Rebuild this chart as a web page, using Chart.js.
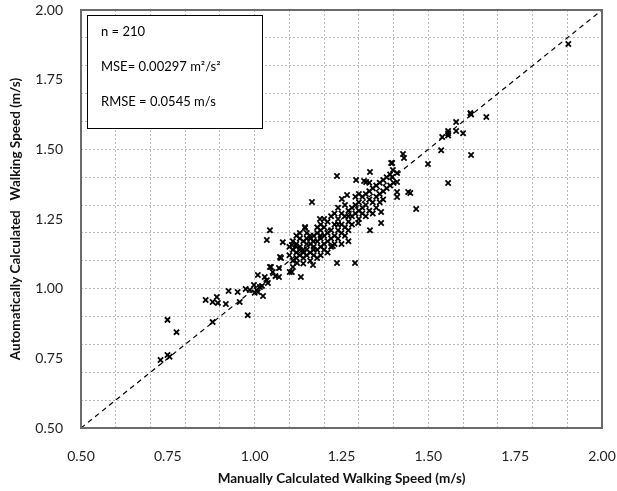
<!DOCTYPE html>
<html>
<head>
<meta charset="utf-8">
<script src="https://cdn.jsdelivr.net/npm/chart.js@4.4.1/dist/chart.umd.min.js"></script>
<style>
  html, body { margin: 0; padding: 0; background: #fff; }
</style>
</head>
<body>
<canvas id="speed-chart" width="617" height="491"></canvas>
<script>
// manually calculated walking speed (m/s), one per observation
const manualSpeed = [
  0.729, 0.749, 0.755, 0.749, 0.775, 0.879, 0.859, 0.891, 0.879, 0.894,
  0.917, 0.925, 0.951, 0.957, 0.980, 0.974, 0.998, 1.000, 1.009, 1.024,
  1.015, 1.009, 1.021, 0.986, 1.006, 1.044, 1.038, 1.070, 1.070, 1.073,
  1.101, 1.133, 1.110, 1.122, 1.044, 1.035, 1.081, 1.145, 1.107, 1.076,
  1.047, 1.029, 1.052, 1.107, 1.060, 1.035,
  1.903, 1.621, 1.623, 1.667, 1.580, 1.557, 1.557, 1.557, 1.540, 1.580,
  1.600, 1.537, 1.623, 1.499, 1.557, 1.427, 1.430, 1.396, 1.398, 1.410,
  1.410, 1.410, 1.410, 1.442, 1.448, 1.465, 1.332, 1.237, 1.292, 1.315,
  1.321, 1.165, 1.251, 1.266, 1.364, 1.364, 1.332, 1.188, 1.145, 1.396,
  1.393,
  1.10, 1.11, 1.12, 1.12, 1.13, 1.13, 1.14, 1.14, 1.15, 1.15,
  1.16, 1.16, 1.17, 1.17, 1.18, 1.18, 1.11, 1.12, 1.13, 1.14,
  1.15, 1.16, 1.17, 1.18, 1.19, 1.19, 1.11, 1.13, 1.15, 1.16,
  1.14, 1.12, 1.17, 1.18, 1.20, 1.20, 1.15, 1.13, 1.16, 1.19,
  1.20, 1.21, 1.21, 1.22, 1.22, 1.23, 1.23, 1.24, 1.24, 1.25,
  1.25, 1.26, 1.26, 1.27, 1.27, 1.28, 1.28, 1.29, 1.29, 1.30,
  1.21, 1.22, 1.23, 1.24, 1.25, 1.26, 1.27, 1.20, 1.19, 1.18,
  1.23, 1.24, 1.26, 1.28, 1.30, 1.22, 1.25, 1.27, 1.21, 1.19,
  1.225, 1.237, 1.289, 1.168, 1.298,
  1.30, 1.31, 1.31, 1.32, 1.32, 1.33, 1.33, 1.34, 1.34, 1.35,
  1.35, 1.36, 1.36, 1.37, 1.37, 1.38, 1.38, 1.39, 1.39, 1.40,
  1.31, 1.32, 1.33, 1.34, 1.35, 1.36, 1.30, 1.29, 1.37, 1.33,
  1.14, 1.17, 1.12, 1.24, 1.27, 1.20, 1.10, 1.19
];

// automatically calculated walking speed (m/s), same order
const autoSpeed = [
  0.744, 0.762, 0.756, 0.888, 0.844, 0.880, 0.959, 0.970, 0.952, 0.949,
  0.945, 0.992, 0.988, 0.952, 0.905, 0.999, 1.013, 0.985, 0.988, 0.974,
  1.006, 1.049, 1.010, 0.995, 0.995, 1.078, 1.020, 1.042, 1.074, 1.114,
  1.060, 1.042, 1.078, 1.092, 1.210, 1.175, 1.167, 1.221, 1.157, 1.110,
  1.078, 1.042, 1.060, 1.060, 1.045, 1.030,
  1.878, 1.630, 1.625, 1.616, 1.598, 1.566, 1.558, 1.550, 1.544, 1.566,
  1.558, 1.497, 1.480, 1.447, 1.379, 1.483, 1.469, 1.451, 1.426, 1.415,
  1.383, 1.347, 1.329, 1.347, 1.343, 1.286, 1.419, 1.404, 1.390, 1.386,
  1.383, 1.311, 1.322, 1.336, 1.275, 1.236, 1.210, 1.250, 1.218, 1.401,
  1.451,
  1.12, 1.14, 1.13, 1.16, 1.12, 1.15, 1.17, 1.11, 1.14, 1.18,
  1.13, 1.16, 1.19, 1.15, 1.17, 1.20, 1.10, 1.19, 1.18, 1.14,
  1.12, 1.19, 1.12, 1.14, 1.18, 1.21, 1.17, 1.20, 1.16, 1.10,
  1.09, 1.11, 1.17, 1.11, 1.19, 1.16, 1.20, 1.14, 1.18, 1.15,
  1.22, 1.20, 1.24, 1.21, 1.26, 1.23, 1.19, 1.25, 1.21, 1.27,
  1.23, 1.26, 1.22, 1.28, 1.24, 1.29, 1.26, 1.27, 1.30, 1.28,
  1.17, 1.15, 1.16, 1.18, 1.20, 1.19, 1.21, 1.25, 1.23, 1.22,
  1.27, 1.29, 1.30, 1.23, 1.25, 1.18, 1.16, 1.17, 1.13, 1.12,
  1.153, 1.092, 1.092, 1.085, 1.236,
  1.31, 1.29, 1.33, 1.30, 1.34, 1.32, 1.35, 1.31, 1.36, 1.33,
  1.37, 1.34, 1.38, 1.35, 1.39, 1.36, 1.40, 1.37, 1.41, 1.38,
  1.27, 1.26, 1.28, 1.27, 1.29, 1.31, 1.34, 1.33, 1.32, 1.38,
  1.13, 1.14, 1.15, 1.23, 1.26, 1.14, 1.15, 1.19
];

const gridValues = [0.5, 0.6, 0.7, 0.8, 0.9, 1.0, 1.1, 1.2, 1.3, 1.4, 1.5, 1.6, 1.7, 1.8, 1.9, 2.0];
const tickLabels = [0.5, 0.75, 1.0, 1.25, 1.5, 1.75, 2.0];
const lineOfEquality = [0.5, 2.0];
const statLines = ["n = 210", "MSE= 0.00297 m\u00b2/s\u00b2", "RMSE = 0.0545 m/s"];

const allTicks = [...new Set(gridValues.concat(tickLabels))].sort((a, b) => a - b);
const isGrid = v => Math.abs(v * 10 - Math.round(v * 10)) < 1e-6;
const isLabel = v => Math.abs(v * 4 - Math.round(v * 4)) < 1e-6;

const font = "Lato, 'Open Sans', sans-serif";

const frameAndBox = {
  id: "frameAndBox",
  afterDraw(chart) {
    const { ctx, chartArea } = chart;
    ctx.save();
    // plot frame
    ctx.strokeStyle = "#6b6b6b";
    ctx.lineWidth = 2;
    ctx.strokeRect(chartArea.left, chartArea.top, chartArea.right - chartArea.left, chartArea.bottom - chartArea.top);
    // stats box
    ctx.fillStyle = "#fff";
    ctx.fillRect(87.5, 15.5, 175, 113);
    ctx.strokeStyle = "#000";
    ctx.lineWidth = 1;
    ctx.strokeRect(87.5, 15.5, 175, 113);
    ctx.fillStyle = "#000";
    ctx.font = "13px " + font;
    ctx.textBaseline = "middle";
    statLines.forEach((t, i) => ctx.fillText(t, 101, 32 + i * 35));
    ctx.restore();
  }
};

const axisOpts = (title) => ({
  type: "linear",
  min: 0.5,
  max: 2.0,
  afterBuildTicks: scale => { scale.ticks = allTicks.map(v => ({ value: v })); },
  border: { display: false, dash: [2, 2] },
  grid: {
    drawTicks: false,
    lineWidth: 1,
    color: c => (c.tick && isGrid(c.tick.value)) ? "#b8b8b8" : "rgba(0,0,0,0)"
  },
  ticks: {
    autoSkip: false,
    maxRotation: 0,
    color: "#1f1f1f",
    font: { family: font, size: 14 },
    callback: v => isLabel(v) ? v.toFixed(2) : ""
  },
  title: {
    display: true,
    text: title,
    color: "#111",
    font: { family: font, size: 13.5, weight: "bold" }
  }
});

const xAxis = axisOpts("Manually Calculated Walking Speed (m/s)");
xAxis.ticks.padding = 20;
xAxis.title.padding = { top: 0, bottom: 4 };
xAxis.afterFit = s => { s.height = 63; s.paddingLeft = 0; s.paddingRight = 0; };

const yAxis = axisOpts("Automatically Calculated   Walking Speed (m/s)");
yAxis.ticks.padding = 18;
yAxis.title.padding = { top: 8, bottom: 0 };
yAxis.afterFit = s => { s.width = 81; s.paddingTop = 0; s.paddingBottom = 0; };

new Chart(document.querySelector("#speed-chart"), {
  type: "scatter",
  data: {
    datasets: [
      {
        type: "line",
        data: lineOfEquality.map(v => ({ x: v, y: v })),
        borderColor: "#000",
        borderWidth: 1.2,
        borderDash: [5, 4],
        pointRadius: 0,
        fill: false
      },
      {
        data: manualSpeed.map((x, i) => ({ x: x, y: autoSpeed[i] })),
        pointStyle: "crossRot",
        pointRadius: 3.7,
        borderColor: "#000",
        borderWidth: 1.8
      }
    ]
  },
  options: {
    responsive: false,
    animation: false,
    devicePixelRatio: 1,
    layout: { padding: { top: 10, right: 15, left: 0, bottom: 0 } },
    plugins: { legend: { display: false }, tooltip: { enabled: false } },
    scales: { x: xAxis, y: yAxis }
  },
  plugins: [frameAndBox]
});
</script>
</body>
</html>
